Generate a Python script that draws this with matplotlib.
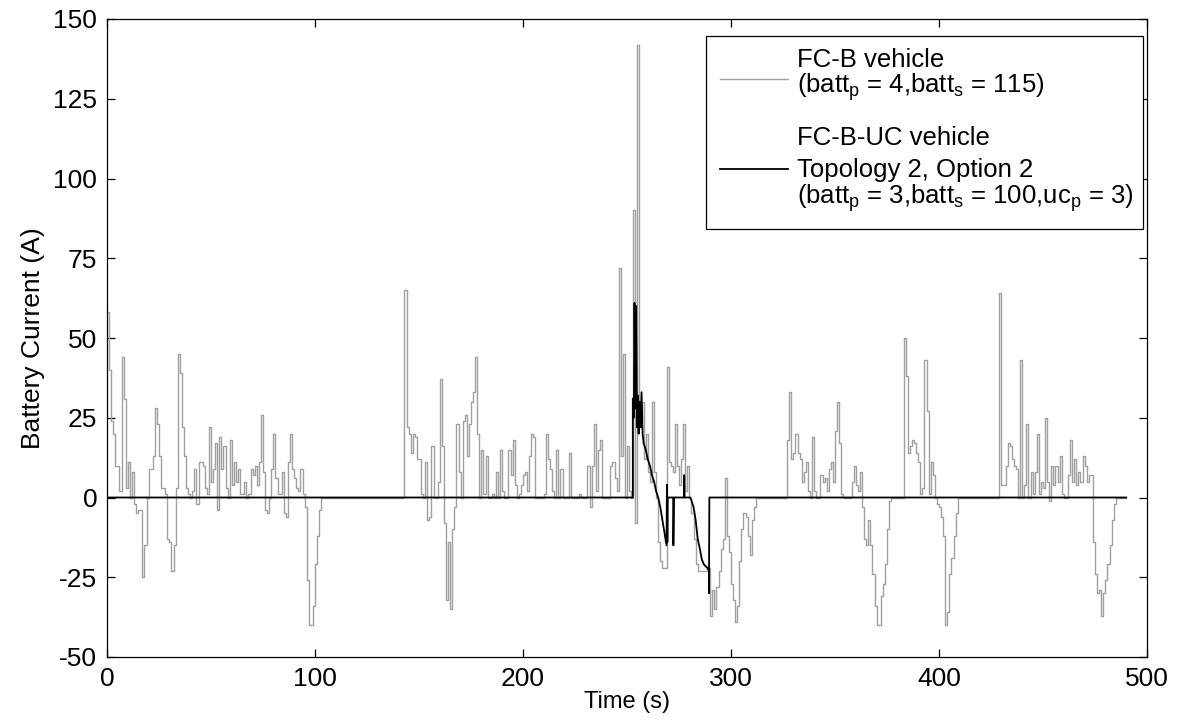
import numpy as np
import matplotlib
matplotlib.use("Agg")
import matplotlib.pyplot as plt
from matplotlib.patches import Rectangle
from matplotlib.lines import Line2D

plt.rcParams['font.family'] = ['Liberation Sans', 'DejaVu Sans']
plt.rcParams['mathtext.fontset'] = 'custom'
plt.rcParams['mathtext.rm'] = 'Liberation Sans'
plt.rcParams['mathtext.it'] = 'Liberation Sans'
plt.rcParams['axes.unicode_minus'] = False

# ---- FC-B vehicle battery current (A), 1 s samples, one list per driving phase
fcb_start_a = 0
fcb_a = [58, 40, 24, 20, 10, 10, 2, 44, 31, 3, 11, 0, 8, -2, -5, -4, -4, -25, -15, 0,
         9, 9, 13, 28, 23, 13, 3, 3, 1, -13, -14, -23, -15, 3, 45, 39, 22, 13, 3, 1,
         0, 2, 9, -2, 11, 11, 10, 3, 1, 22, 5, 9, 17, -4, 19, 9, 16, 3, 0, 18,
         4, 11, 5, 9, 1, 1, 5, 0, 1, 9, 7, 10, 4, 11, 26, 8, -4, -5, 0, 9,
         20, 6, 1, 1, 8, -5, -6, 11, 20, 9, 6, 3, 2, 9, 1, -3, -26, -40, -40, -34,
         -21, -12, -4, 0]

fcb_start_b = 143
fcb_b = [65, 22, 20, 14, 20, 19, 12, 12, 1, 0,
         11, -7, -6, 16, 0, 0, 5, 37, 16, -8,
         -32, -14, -35, -10, -3, 23, 8, 0, 24, 26,
         13, 23, 30, 33, 44, 20, 0, 15, 1, 13,
         0, 0, 1, 0, 8, 0, 15, 2, 0, 0,
         15, 7, 18, 4, 0, 1, 4, 7, 8, 2,
         13, 20, 19, 0, 0, 0, 0, 1, 20, 12,
         9, 2, 0, 15, 0, 9, 0, 0, 0, 14,
         0, 0, 0, 0, 1, 0, 0, 0, 10, -3,
         10, 23, 2, 15, 18, 0, 0, 0, 0, 10,
         11, 6, 2, 72, 13, 45, 0, 16, 2, 0,
         90, -8, 142, 25, 30, 12, 20, 8, 5, 30,
         8, 0, -14, -20, -22, -22, 41, 11, 10, 8,
         23, 10, 4, 12, 23, 2, 10, 0, -5, -13,
         -21, -23, -23, -23, -23, -23, -22, -37, -29, -35,
         -28, -23, -16, -13, 6, -12, -17, -27, -32, -39,
         -34, -20, -10, -5, -6, -12, -18, -7, -3, 0]

fcb_start_c = 326
fcb_c = [0, 18, 33, 12, 14, 20, 14, 12, 5, 8,
         11, 2, 0, 19, 2, 0, 0, 7, 5, 6,
         2, 9, 11, 5, 21, 30, 17, 1, 0, 0,
         0, 0, 5, 10, 4, 2, 8, -3, -13, -15,
         -7, -15, -24, -34, -40, -40, -31, -27, -21, -10,
         -1, 0]

fcb_start_d = 383
fcb_d = [50, 38, 14, 16, 18, 17, 14, 11, 1, 3,
         43, 27, 1, 11, 7, 0, -2, -3, -6, -12,
         -40, -36, -24, -19, -12, -5, 0]

fcb_start_e = 429
fcb_e = [64, 4, 4, 10, 17, 16, 12, 10, 9, 0,
         43, 0, 4, 23, 0, 8, 1, 8, 20, 1,
         5, 3, 25, 5, -1, 10, 4, 10, 5, 13,
         1, 0, 0, 7, 18, 5, 12, 4, 8, 5,
         13, 10, 5, 7, 7, -14, -24, -30, -29, -37,
         -30, -26, -21, -15, -7, -2, 0]

fcb_end = 490

# ---- FC-B-UC vehicle battery current (A)
fcbuc_time = [0, 252.8, 252.8, 253.3, 253.6, 254.0, 254.4, 254.8, 255.2, 255.6,
              256.0, 256.5, 257.0, 257.5, 258, 259, 260, 261, 262, 263,
              264, 265, 266, 267, 268, 269, 269.2, 269.4, 269.6, 272.2,
              272.3, 272.6, 277.4, 277.5, 277.7, 280.5, 281, 282, 283, 284,
              285, 286, 287, 288.5, 289.4, 289.4, 289.6, 490]
fcbuc_current = [0, 0, 31, 25, 61, 28, 60, 22, 32, 20,
                 30, 22, 33, 20, 17, 15, 12, 10, 7, 5,
                 2, 0, -3, -7, -11, -15, 4, -14, 0, 0,
                 -15, 0, 0, 7, 0, 0, -1, -3, -7, -13,
                 -16, -19.5, -21, -22, -23, -30, 0, 0]

# assemble the FC-B trace on a 1 s grid
t_fcb = np.arange(0, fcb_end + 1)
i_fcb = np.zeros_like(t_fcb, dtype=float)
for start, seg in [(fcb_start_a, fcb_a), (fcb_start_b, fcb_b), (fcb_start_c, fcb_c),
                   (fcb_start_d, fcb_d), (fcb_start_e, fcb_e)]:
    i_fcb[start:start + len(seg)] = seg

W, H = 1182, 723
fig = plt.figure(figsize=(W / 100, H / 100), dpi=100)
ax = fig.add_axes([107 / W, 1 - 657 / H, (1147 - 107) / W, (657 - 19) / H])

gray = '#a0a0a0'
ax.step(t_fcb, i_fcb, where='post', color=gray, lw=1.0, zorder=2)
ax.plot(fcbuc_time, fcbuc_current, color='black', lw=1.3, zorder=3)

ax.set_xlim(0, 500)
ax.set_ylim(-50, 150)
ax.set_xticks(np.arange(0, 501, 100))
ax.set_yticks(np.arange(-50, 151, 25))
ax.tick_params(direction='in', length=6, width=0.9, top=True, right=True,
               labelsize=19, pad=7, colors='black')
for s in ax.spines.values():
    s.set_linewidth(0.9)

ax.set_xlabel('Time (s)', fontsize=17, labelpad=0)
ax.set_ylabel('Battery Current (A)', fontsize=19, labelpad=6)

# legend box drawn in pixel positions
def fx(x):
    return x / W

def fy(y):
    return 1 - y / H

fig.patches.append(Rectangle((fx(706), fy(229)), fx(1143) - fx(706), fy(36) - fy(229),
                             transform=fig.transFigure, facecolor='white',
                             edgecolor='black', lw=0.9, zorder=5))
fig.lines.append(Line2D([fx(720), fx(788)], [fy(79), fy(79)], transform=fig.transFigure,
                        color=gray, lw=1.0, zorder=6))
fig.lines.append(Line2D([fx(720), fx(788)], [fy(169), fy(169)], transform=fig.transFigure,
                        color='black', lw=1.3, zorder=6))

legend_lines = [
    ('FC-B vehicle', 60),
    (r'(batt$_{\mathregular{p}}$ = 4,batt$_{\mathregular{s}}$ = 115)', 87),
    ('FC-B-UC vehicle', 138),
    ('Topology 2, Option 2', 170),
    (r'(batt$_{\mathregular{p}}$ = 3,batt$_{\mathregular{s}}$ = 100,uc$_{\mathregular{p}}$ = 3)', 198),
]
for txt, ypx in legend_lines:
    fig.text(fx(797), fy(ypx), txt, fontsize=18.5, va='center', ha='left', zorder=7)

fig.savefig('out.png', dpi=100)
